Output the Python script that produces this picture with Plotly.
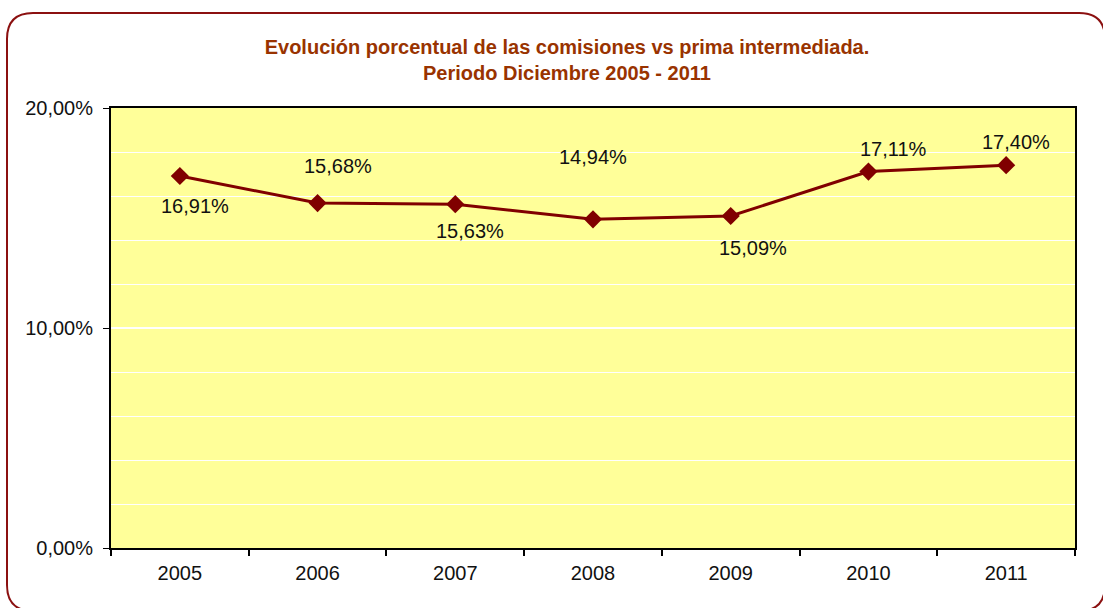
import plotly.graph_objects as go

years = ["2005", "2006", "2007", "2008", "2009", "2010", "2011"]
values = [0.1691, 0.1568, 0.1563, 0.1494, 0.1509, 0.1711, 0.1740]
# label offsets in pixels (dx right, dy up)
label_dx = [15, 20, 15, 0, 22, 25, 10]
label_dy = [-30, 37, -27, 62, -32, 23, 23]

W, H = 1103, 608
L, R, T, B = 111, 28, 108, 60
pw, ph = W - L - R, H - T - B

fig = go.Figure()
fig.add_trace(go.Scatter(
    x=years, y=values, mode="lines+markers",
    line=dict(color="#800000", width=3),
    marker=dict(symbol="diamond", size=14, color="#800000"),
    hoverinfo="skip", showlegend=False,
))

for i, (v, dx, dy) in enumerate(zip(values, label_dx, label_dy)):
    fig.add_annotation(
        x=i, y=v, xref="x", yref="y",
        text=f"{v*100:.2f}%".replace(".", ","),
        showarrow=False, xshift=dx, yshift=dy,
        font=dict(family="Liberation Sans, Arial, sans-serif", size=20, color="#111111"),
    )

# rounded border around the whole chart, pixel -> paper coords
def px(xp):
    return (xp - L) / pw

def py(yp):
    return (H - B - yp) / ph

x0, y0, x1, y1, r = 7, 13, 1105, 611, 26
path = (
    f"M {px(x0 + r)} {py(y0)} L {px(x1 - r)} {py(y0)} "
    f"Q {px(x1)} {py(y0)} {px(x1)} {py(y0 + r)} "
    f"L {px(x1)} {py(y1 - r)} Q {px(x1)} {py(y1)} {px(x1 - r)} {py(y1)} "
    f"L {px(x0 + r)} {py(y1)} Q {px(x0)} {py(y1)} {px(x0)} {py(y1 - r)} "
    f"L {px(x0)} {py(y0 + r)} Q {px(x0)} {py(y0)} {px(x0 + r)} {py(y0)} Z"
)
fig.add_shape(type="path", path=path, xref="paper", yref="paper",
              line=dict(color="#8B1010", width=2), layer="above")

fig.update_layout(
    width=W, height=H,
    margin=dict(l=L, r=R, t=T, b=B),
    paper_bgcolor="white",
    plot_bgcolor="#FFFF99",
    separators=",.",
    title=dict(
        text="Evolución porcentual de las comisiones vs prima intermediada.<br>Periodo Diciembre 2005 - 2011",
        x=567 / W, xanchor="center", y=1 - 54 / H, yanchor="top",
        font=dict(family="Liberation Sans, Arial, sans-serif",
                  size=20, color="#993300", weight="bold"),
    ),
    xaxis=dict(
        type="category", tickson="boundaries", ticks="outside", ticklen=6,
        tickcolor="black", tickwidth=2, ticklabelstandoff=6,
        showline=True, linecolor="black", linewidth=2, mirror=True,
        showgrid=False,
        tickfont=dict(family="Liberation Sans, Arial, sans-serif", size=20, color="#111111"),
        range=[-0.5, 6.5],
    ),
    yaxis=dict(
        range=[0, 0.2], dtick=0.1, tickformat=".2%",
        ticks="outside", ticklen=6, tickcolor="black", tickwidth=1,
        ticklabelstandoff=6,
        showline=True, linecolor="black", linewidth=2, mirror=True,
        showgrid=True, gridcolor="white", gridwidth=1.5,
        minor=dict(dtick=0.02, showgrid=True, gridcolor="white", gridwidth=1.2, ticks=""),
        zeroline=False,
        tickfont=dict(family="Liberation Sans, Arial, sans-serif", size=20, color="#111111"),
    ),
)

fig.write_html("out.html", config={"displayModeBar": False},
               post_script="document.body.style.margin='0';")
